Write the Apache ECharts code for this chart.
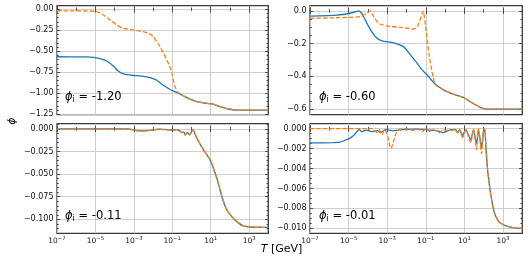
<!DOCTYPE html>
<html><head><meta charset="utf-8">
<script src="https://cdn.jsdelivr.net/npm/echarts@6/dist/echarts.min.js"></script>
<style>html,body{margin:0;padding:0;background:#fff}#c{width:528px;height:267px}</style>
</head><body><div id="c"></div>
<script>
// ---------- data (x stored as log10 of T [GeV]) ----------
// panel A: phi_i = -1.20
const a_blue_logT = [-7,-5.5,-5.1,-4.76,-4.41,-4.07,-3.81,-3.55,-3.03,-2.68,-2.33,-2.0,-1.81,-1.46,-1.11,-0.77,-0.51,-0.07,0.28,0.8,1.14,1.49,2.01,2.36,3.0,4.0];
const a_blue_phi  = [-0.565,-0.567,-0.572,-0.588,-0.615,-0.675,-0.735,-0.77,-0.788,-0.792,-0.805,-0.825,-0.845,-0.905,-0.955,-0.99,-1.02,-1.07,-1.1,-1.12,-1.13,-1.16,-1.19,-1.2,-1.2,-1.2];
const a_orange_logT = [-7,-5.5,-4.93,-4.58,-4.24,-3.89,-3.55,-3.03,-2.51,-2.2,-1.99,-1.64,-1.29,-1.1,-1.0,-0.94,-0.86,-0.72,-0.59,-0.51,-0.07,0.28,0.8,1.14,1.49,2.01,2.36,3.0,4.0];
const a_orange_phi  = [-0.017,-0.02,-0.027,-0.068,-0.127,-0.187,-0.226,-0.246,-0.267,-0.29,-0.326,-0.445,-0.6,-0.7,-0.78,-0.84,-0.92,-0.985,-1.005,-1.02,-1.07,-1.1,-1.12,-1.13,-1.16,-1.19,-1.2,-1.2,-1.2];
// panel B: phi_i = -0.60
const b_blue_logT = [-7,-5.6,-4.92,-4.6,-4.48,-4.35,-4.22,-3.96,-3.61,-3.27,-2.66,-2.14,-1.79,-1.44,-1.18,-0.92,-0.58,-0.06,0.46,0.98,1.33,1.85,2.2,3,4];
const b_blue_phi  = [-0.032,-0.026,-0.015,-0.005,-0.001,-0.012,-0.036,-0.097,-0.158,-0.183,-0.195,-0.22,-0.27,-0.321,-0.362,-0.393,-0.44,-0.484,-0.51,-0.53,-0.556,-0.59,-0.6,-0.6,-0.6];
const b_orange_logT = [-7,-5.5,-4.4,-4.05,-3.88,-3.78,-3.7,-3.44,-3.0,-2.31,-1.62,-1.44,-1.27,-1.13,-1.05,-1.01,-0.84,-0.66,-0.5,-0.06,0.46,0.98,1.33,1.85,2.2,3,4];
const b_orange_phi  = [-0.046,-0.042,-0.036,-0.015,0,-0.02,-0.036,-0.077,-0.093,-0.101,-0.111,-0.097,-0.046,-0.002,-0.06,-0.097,-0.26,-0.383,-0.45,-0.484,-0.51,-0.53,-0.556,-0.59,-0.6,-0.6,-0.6];
// panel C: phi_i = -0.11
const c_logT = [-7,-3.3,-3.0,-2.7,-2.3,-2.0,-1.7,-1.3,-1.0,-0.75,-0.6,-0.5,-0.4,-0.33,-0.2,-0.1,0.07,0.28,0.62,0.97,1.14,1.32,1.49,1.66,1.84,2.1,2.36,2.7,3.22,4.0];
const c_blue_phi   = [0,0,-0.0012,-0.0022,-0.002,-0.0012,-0.0003,-0.0008,-0.0015,-0.0008,-0.0025,-0.004,-0.0035,-0.0066,-0.004,-0.0066,-0.0008,-0.0103,-0.023,-0.034,-0.0435,-0.0545,-0.0675,-0.08,-0.0896,-0.097,-0.1025,-0.1073,-0.1087,-0.1088];
const c_orange_phi = [0,0,-0.0015,-0.0025,-0.0021,-0.0012,-0.0004,-0.001,-0.0016,-0.0009,-0.0028,-0.0042,-0.0036,-0.0068,-0.0042,-0.0068,-0.0006,-0.0103,-0.023,-0.034,-0.0435,-0.0545,-0.0675,-0.08,-0.0896,-0.097,-0.1025,-0.1073,-0.1087,-0.1088];
// panel D: phi_i = -0.01
const d_blue_logT = [-7,-5.8,-5.44,-5.2,-4.92,-4.7,-4.57,-4.45,-4.3,-4.1,-3.8,-3.5,-3.35,-3.1,-2.7,-2.2,-1.5,-1.0,-0.5,-0.23,-0.1,0.3,0.55,0.64,0.75,0.9,1.07,1.33,1.47,1.63,1.73,1.89,2.0,2.06,2.12,2.2,2.3,2.38,2.55,2.81,3.24,3.6,4.0];
const d_blue_phi  = [-0.00143,-0.0014,-0.00135,-0.00117,-0.00095,-0.0006,-0.0003,-0.0001,-0.0003,-0.00015,-0.0003,-0.0002,-0.0004,-0.0001,-0.0002,-0.0001,-0.00005,-0.0001,-0.0002,-0.0003,-0.0004,-0.0001,-0.0001,-0.0004,-0.0001,-0.0007,-0.0001,-0.0011,-0.0001,-0.0015,-0.0001,-0.0019,-0.0002,-0.0001,-0.002,-0.0041,-0.0057,-0.0068,-0.0084,-0.0094,-0.0098,-0.00995,-0.01];
const d_orange_logT = [-7,-3.8,-3.6,-3.53,-3.4,-3.27,-3.15,-3.05,-2.97,-2.87,-2.8,-2.69,-2.57,-2.4,-2.0,-1.6,-1.4,-1.2,-1.0,-0.8,-0.6,-0.3,-0.1,0.2,0.5,0.64,0.75,0.9,1.07,1.33,1.47,1.63,1.73,1.89,2.0,2.06,2.12,2.2,2.3,2.38,2.55,2.81,3.24,3.6,4.0];
const d_orange_phi  = [0,0,-0.0002,-0.0004,-0.0001,-0.0006,-0.0001,-0.0003,-0.0008,-0.0017,-0.002,-0.0014,-0.0006,-0.0001,0,-0.0002,0,-0.0003,0,-0.0003,-0.0001,-0.0004,-0.0001,-0.0002,-0.0001,-0.0004,-0.0001,-0.0009,-0.0001,-0.0014,0,-0.0021,0,-0.0025,0,-0.0001,-0.002,-0.0041,-0.0057,-0.0068,-0.0084,-0.0094,-0.0098,-0.00995,-0.01];

// tick labels / panel labels
const xTickExps  = [-7,-5,-3,-1,1,3];
const xMinorExps = [-6,-4,-2,0,2,4];
const yTicksA = [0,-0.25,-0.5,-0.75,-1.0,-1.25];
const yTicksB = [0,-0.2,-0.4,-0.6];
const yTicksC = [0,-0.025,-0.05,-0.075,-0.1];
const yTicksD = [0,-0.002,-0.004,-0.006,-0.008,-0.01];
const panelLabels = ['-1.20','-0.60','-0.11','-0.01'];

// ---------- layout / style ----------
const FONT = 'DejaVu Sans';
const TXT = '#111', FRAME = '#3a3a3a', GRIDC = '#c8c8c8';
const BLUE = '#1f77b4', ORANGE = '#ff7f0e';
const grids = [
  {left:57,  top:5.7,   width:211.3, height:109},
  {left:310, top:5.7,   width:212.3, height:109},
  {left:57,  top:123.7, width:211.3, height:109.6},
  {left:310, top:123.7, width:212.3, height:109.6}
];
const yRange = [[-1.2548,0.043],[-0.6335,0.031],[-0.1154,0.0057],[-0.0105,0.0005]];
const yMajor = [yTicksA,yTicksB,yTicksC,yTicksD];
const yMinorStep = [0.05,0.05,0.005,0.0005];
const yDec = [2,1,3,3];
const xMin = 1e-7, xMax = 1e4;
const xMajor = xTickExps.map(e => Number('1e' + e));
const xMinor = xMinorExps.map(e => Number('1e' + e));

function minorVals(g) {
  const [lo, hi] = yRange[g], st = yMinorStep[g], out = [];
  for (let k = Math.ceil(lo / st - 1e-9); k * st <= hi + 1e-12; k++) {
    const v = +(k * st).toFixed(8);
    if (!yMajor[g].some(m => Math.abs(m - v) < st * 1e-3)) out.push(v);
  }
  return out;
}
function supLabel(v) {
  const e = Math.round(Math.log10(v));
  return '{b|10}{s|' + (e < 0 ? '\u2212' : '') + Math.abs(e) + '}';
}
const xRich = {
  b: {fontFamily: FONT, fontSize: 7.5, color: TXT, verticalAlign: 'bottom', lineHeight: 10},
  s: {fontFamily: FONT, fontSize: 5.3, color: TXT, verticalAlign: 'bottom', lineHeight: 10, padding: [0,0,3.5,0]}
};

const xAxis = [], yAxis = [], series = [], mainX = [], mainY = [];
for (let g = 0; g < 4; g++) {
  const bottomRow = g >= 2;
  const defs = [
    ['bottom', xMajor, 3.2, true],
    ['bottom', xMinor, 1.8, false],
    ['top', xMajor, 3.2, false],
    ['top', xMinor, 1.8, false]
  ];
  defs.forEach((d, i) => {
    if (i === 0) mainX.push(xAxis.length);
    xAxis.push({
      type: 'log', logBase: 10, gridIndex: g, position: d[0], min: xMin, max: xMax,
      axisLine: {show: false},
      axisTick: {show: true, inside: true, length: d[2], customValues: d[1], lineStyle: {color: FRAME, width: 0.9}},
      minorTick: {show: false},
      axisLabel: {show: d[3] && bottomRow, customValues: d[1], formatter: supLabel, margin: 1.5, rich: xRich},
      splitLine: {show: d[3], lineStyle: {color: GRIDC, width: 0.9}}
    });
  });
  const ymin = minorVals(g);
  const ydefs = [
    ['left', yMajor[g], 3.2, true],
    ['left', ymin, 1.8, false],
    ['right', yMajor[g], 3.2, false],
    ['right', ymin, 1.8, false]
  ];
  ydefs.forEach((d, i) => {
    if (i === 0) mainY.push(yAxis.length);
    yAxis.push({
      type: 'value', gridIndex: g, position: d[0], min: yRange[g][0], max: yRange[g][1],
      axisLine: {show: false},
      axisTick: {show: true, inside: true, length: d[2], customValues: d[1], lineStyle: {color: FRAME, width: 0.9}},
      minorTick: {show: false},
      axisLabel: {show: d[3] && d[0] === 'left', customValues: d[1], margin: 3.5,
        fontFamily: FONT, fontSize: 8, color: TXT,
        formatter: v => (v < 0 ? '\u2212' : '') + Math.abs(v).toFixed(yDec[g])},
      splitLine: {show: d[3], lineStyle: {color: GRIDC, width: 0.9}}
    });
  });
}

const panels = [
  [[a_blue_logT, a_blue_phi], [a_orange_logT, a_orange_phi]],
  [[b_blue_logT, b_blue_phi], [b_orange_logT, b_orange_phi]],
  [[c_logT, c_blue_phi], [c_logT, c_orange_phi]],
  [[d_blue_logT, d_blue_phi], [d_orange_logT, d_orange_phi]]
];
panels.forEach((p, g) => {
  p.forEach((s, k) => {
    series.push({
      type: 'line', xAxisIndex: mainX[g], yAxisIndex: mainY[g],
      data: s[0].map((lt, i) => [Math.pow(10, lt), s[1][i]]),
      showSymbol: false, symbol: 'none', smooth: 0.2, animation: false,
      lineStyle: {color: k ? ORANGE : BLUE, width: 1.3, type: k ? [4.5, 2] : 'solid'},
      z: 3 + k
    });
  });
});

const labelPos = [[65, 99.2], [319, 99.2], [65, 217.7], [319, 217.7]];
const graphic = panelLabels.map((t, g) => ({
  type: 'text', left: labelPos[g][0], top: labelPos[g][1] - 8, z: 100,
  style: {
    text: '{p|\u03d5}{s|i}{t| = ' + t + '}',
    rich: {
      p: {fontFamily: FONT, fontSize: 11.5, fontStyle: 'italic', fill: '#000', verticalAlign: 'bottom', lineHeight: 16},
      s: {fontFamily: FONT, fontSize: 8, fill: '#000', verticalAlign: 'bottom', lineHeight: 16, padding: [0,0,-1,0]},
      t: {fontFamily: FONT, fontSize: 11.5, fill: '#000', verticalAlign: 'bottom', lineHeight: 16}
    }
  }
}));
graphic.push({
  type: 'text', x: 12.5, y: 121, rotation: Math.PI / 2, z: 100,
  style: {text: '\u03d5', fontFamily: FONT, fontSize: 11, fontStyle: 'italic', fill: '#000', align: 'center', verticalAlign: 'middle'}
});
graphic.push({
  type: 'text', x: 281.5, y: 249, z: 100,
  style: {
    text: '{i|T}{n| [GeV]}', align: 'center', verticalAlign: 'middle',
    rich: {
      i: {fontFamily: FONT, fontSize: 11, fontStyle: 'italic', fill: '#000'},
      n: {fontFamily: FONT, fontSize: 11, fill: '#000'}
    }
  }
});

const chart = echarts.init(document.getElementById('c'), null, {renderer: 'canvas', width: 528, height: 267});
chart.setOption({
  animation: false,
  backgroundColor: '#fff',
  grid: grids.map(g => Object.assign({show: true, borderColor: FRAME, borderWidth: 1.3, backgroundColor: 'transparent', containLabel: false}, g)),
  xAxis, yAxis, series, graphic
});
</script>
</body></html>
